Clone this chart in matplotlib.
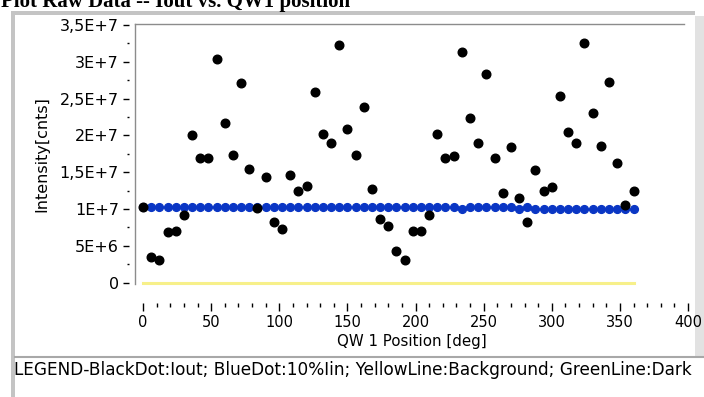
import numpy as np
import matplotlib.pyplot as plt
from matplotlib.patches import Rectangle
from matplotlib.lines import Line2D

# datos
posicion = np.arange(0, 361, 6)  # QW 1 Position [deg]
iout = np.array([1.03e7, 3.5e6, 3.1e6, 6.85e6, 7.05e6, 9.2e6, 2.0e7, 1.70e7, 1.70e7, 3.04e7,
                 2.17e7, 1.74e7, 2.71e7, 1.55e7, 1.01e7, 1.44e7, 8.2e6, 7.25e6, 1.46e7, 1.24e7,
                 1.32e7, 2.59e7, 2.02e7, 1.90e7, 3.23e7, 2.09e7, 1.74e7, 2.38e7, 1.27e7, 8.65e6,
                 7.7e6, 4.25e6, 3.1e6, 7.05e6, 7.05e6, 9.15e6, 2.02e7, 1.70e7, 1.72e7, 3.13e7,
                 2.24e7, 1.90e7, 2.83e7, 1.70e7, 1.22e7, 1.84e7, 1.15e7, 8.2e6, 1.53e7, 1.25e7,
                 1.30e7, 2.54e7, 2.05e7, 1.90e7, 3.25e7, 2.31e7, 1.86e7, 2.73e7, 1.62e7, 1.06e7,
                 1.25e7])
iin10 = np.array([1.03e7] * 39 + [1.0e7] + [1.03e7] * 6 + [1.0e7, 1.03e7] + [1.0e7] * 13)
fondo = np.zeros(len(posicion))

yticks = [0, 5e6, 1e7, 1.5e7, 2e7, 2.5e7, 3e7, 3.5e7]
ytick_labels = ['0', '5E+6', '1E+7', '1,5E+7', '2E+7', '2,5E+7', '3E+7', '3,5E+7']
xticks = [0, 50, 100, 150, 200, 250, 300, 350, 400]

W, H = 704, 397


def fx(px):
    return px / W


def fy(py):
    return 1 - py / H


fig = plt.figure(figsize=(7.04, 3.97), dpi=100)
fig.patch.set_facecolor('white')

# marco gris tipo panel
gris = '#c4c4c4'
fig.add_artist(Rectangle((fx(11), 0), fx(4), fy(12), transform=fig.transFigure,
                         facecolor=gris, edgecolor='none', zorder=-1))
fig.add_artist(Rectangle((fx(11), fy(15)), fx(684), 4 / H, transform=fig.transFigure,
                         facecolor=gris, edgecolor='none', zorder=-1))
fig.add_artist(Rectangle((fx(695), fy(357)), fx(9), (357 - 16) / H, transform=fig.transFigure,
                         facecolor='#e2e2e2', edgecolor='none', zorder=-1))
fig.add_artist(Line2D([fx(15), 1], [fy(357), fy(357)], transform=fig.transFigure,
                      color='#a8a8a8', lw=1.5))
# lineas del area de grafico
fig.add_artist(Line2D([fx(135), fx(684)], [fy(24), fy(24)], transform=fig.transFigure,
                      color='#8c8c8c', lw=1))
fig.add_artist(Line2D([fx(135), fx(135)], [fy(24), fy(284)], transform=fig.transFigure,
                      color='#8c8c8c', lw=1))

# titulo cortado arriba (como en la captura)
fig.text(fx(1), fy(7), 'Plot Raw Data -- Iout vs. QW1 position', family='Liberation Serif',
         fontweight='bold', fontsize=15, va='baseline', ha='left')

ax = fig.add_axes([fx(135), fy(282.7), fx(688) - fx(135), (282.7 - 25) / H])
ax.patch.set_alpha(0)
ax.set_xlim(-5.9, 400)
ax.set_ylim(0, 3.5e7)
for s in ax.spines.values():
    s.set_color('none')
ax.spines['bottom'].set_position(('outward', 14.6))
ax.spines['left'].set_position(('outward', 4.3))

ax.plot(posicion, fondo, color='#f7f08a', lw=2.2, clip_on=False, zorder=2)
ax.plot(posicion, iin10, 'o', color='#0a36c4', ms=5.6, mec='#0a36c4', zorder=3, clip_on=False)
ax.plot(posicion, iout, 'o', color='black', ms=6.2, zorder=4, clip_on=False)

ax.set_xticks(xticks)
ax.set_xticks(np.arange(0, 401, 10), minor=True)
ax.set_yticks(yticks)
ax.set_yticklabels(ytick_labels)
ax.set_yticks(np.arange(2.5e6, 3.5e7, 5e6), minor=True)
ax.tick_params(axis='x', which='major', direction='out', length=5.8, width=1, color='black',
               labelsize=10.5, pad=3)
ax.tick_params(axis='x', which='minor', direction='out', length=3.2, width=1, color='black')
ax.tick_params(axis='y', which='major', direction='out', length=4.3, width=1, color='black',
               labelsize=11.5, pad=3)
ax.tick_params(axis='y', which='minor', direction='out', length=1.6, width=1, color='black')

ax.set_xlabel('QW 1 Position [deg]', fontsize=10.8, labelpad=3)
fig.text(fx(42), fy(154), 'Intensity[cnts]', rotation=90, fontsize=11.5, ha='center', va='center')

fig.text(fx(14), fy(370), 'LEGEND-BlackDot:Iout; BlueDot:10%Iin; YellowLine:Background; GreenLine:Dark',
         fontsize=12.2, ha='left', va='center')

plt.savefig('out.png', dpi=100)
